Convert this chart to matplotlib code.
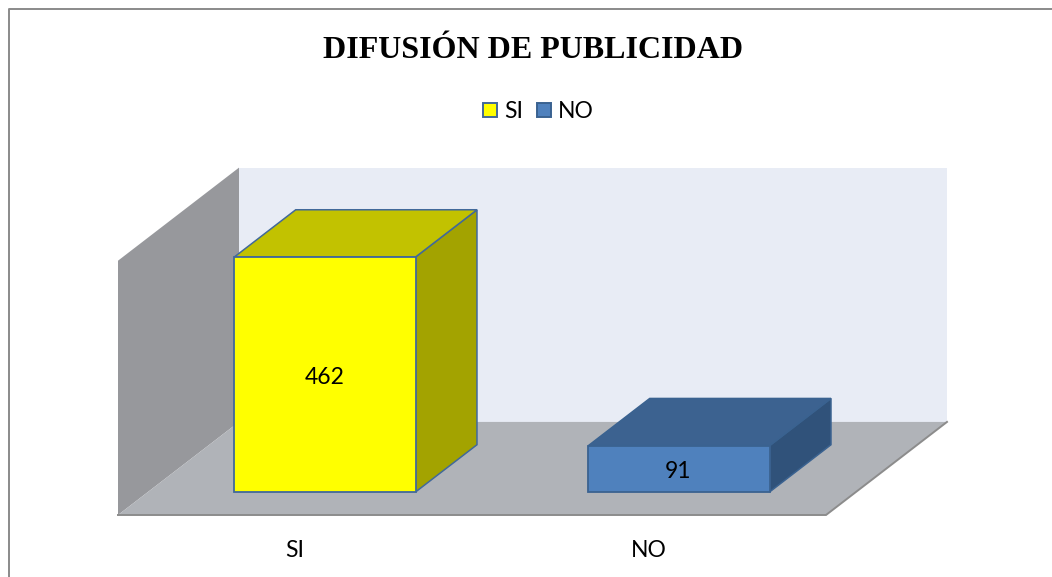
import matplotlib
matplotlib.use("Agg")
import matplotlib.pyplot as plt
from matplotlib.patches import Polygon, Patch
from matplotlib.lines import Line2D

title = "DIFUSIÓN DE PUBLICIDAD"
categories = ["SI", "NO"]
values = [462, 91]
ymax = 500

W, H = 1052, 577
front_col = ["#FFFF00", "#4F81BD"]
top_col = ["#C2C200", "#3C6290"]
side_col = ["#A3A300", "#30527A"]
edge_col = ["#41699A", "#3A6290"]
bar_width = 0.512
depth_x = 121 / 354   # shift of full depth in category units
depth_y = 183         # shift of full depth in value units
d0, d1 = 0.247, 0.755 # bar depth span

fig = plt.figure(figsize=(W / 100, H / 100), dpi=100, facecolor="white")
ax = fig.add_axes([118 / W, (H - 515) / H, 708 / W, 254.3 / H])
ax.set_xlim(-0.5, 1.5)
ax.set_ylim(0, ymax)
ax.patch.set_visible(False)
for s in ax.spines.values():
    s.set_visible(False)

def P(x, y, d):
    return (x + d * depth_x, y + d * depth_y)

def poly(pts, fc, ec="none", lw=0.0, z=1):
    ax.add_patch(Polygon(pts, closed=True, fc=fc, ec=ec, lw=lw, zorder=z,
                         clip_on=False, joinstyle="miter"))

x0, x1 = -0.5, 1.5
# walls and floor
poly([P(x0, 0, 1), P(x1, 0, 1), P(x1, ymax, 1), P(x0, ymax, 1)], "#E8ECF5", z=1)
poly([P(x0, 0, 0), P(x0, 0, 1), P(x0, ymax, 1), P(x0, ymax, 0)], "#97989C", z=2)
poly([P(x0, 0, 0), P(x1, 0, 0), P(x1, 0, 1), P(x0, 0, 1)], "#B0B3B8", z=3)
ax.plot(*zip(P(x0, 0, 0), P(x1, 0, 0), P(x1, 0, 1)), color="#8C8C8C", lw=1.4,
        zorder=3.5, clip_on=False, solid_joinstyle="miter")

# bars
for i, (v, fc, tc, sc, ec) in enumerate(zip(values, front_col, top_col, side_col, edge_col)):
    l, r = i - bar_width / 2, i + bar_width / 2
    z = 4 + i
    poly([P(r, 0, d0), P(r, 0, d1), P(r, v, d1), P(r, v, d0)], sc, ec, 1.1, z)
    poly([P(l, v, d0), P(r, v, d0), P(r, v, d1), P(l, v, d1)], tc, ec, 1.1, z)
    poly([P(l, 0, d0), P(r, 0, d0), P(r, v, d0), P(l, v, d0)], fc, ec, 1.3, z)
    cx, cy = P(i, v / 2, d0)
    ax.annotate(str(v), (cx, cy), xytext=(-0.5, -3), textcoords="offset pixels",
                ha="center", va="center", fontsize=16.5,
                family="Lato", color="black", zorder=8, annotation_clip=False)

ax.set_xticks(range(len(categories)))
ax.set_xticklabels(categories, family="Lato", fontsize=16.5)
ax.set_yticks([])
ax.tick_params(axis="x", length=0, pad=18)

# title, legend, frame
fig.text(533 / W, 1 - 51 / H, title, ha="center", va="center",
         family="Liberation Serif", weight="bold", fontsize=23)
handles = [Patch(fc=c, ec=e, lw=1.4) for c, e in zip(front_col, edge_col)]
fig.legend(handles, categories, loc="center", bbox_to_anchor=(538.5 / W, 1 - 111.5 / H),
           ncol=2, frameon=False, prop={"family": "Lato", "size": 16.5},
           handlelength=0.62, handleheight=0.62, handletextpad=0.3,
           columnspacing=0.62, borderpad=0)
fig.add_artist(Line2D([9.5 / W, 9.5 / W, 1 + 1 / W],
                      [0, 1 - 8.5 / H, 1 - 8.5 / H],
                      color="#8A8A8A", lw=1.4))
fig.savefig("out.png", dpi=100)
